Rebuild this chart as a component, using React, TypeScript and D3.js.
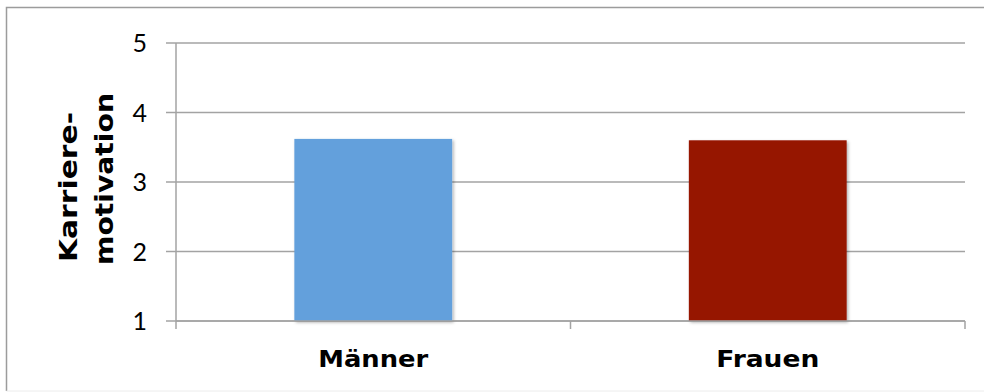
import React from "react";
import * as d3 from "d3";

const categories = ["Männer", "Frauen"];
const values = [3.62, 3.6];
const barColors = ["#64a0dc", "#961200"];
const yTicks = [1, 2, 3, 4, 5];
const yTitleLines = ["Karriere-", "motivation"];

const W = 984;
const H = 392;
const plotLeft = 176;
const plotRight = 965;
const plotTop = 43;
const plotBottom = 321;

export default function App() {
  const x = d3
    .scaleBand<string>()
    .domain(categories)
    .range([plotLeft, plotRight])
    .paddingInner(0.6)
    .paddingOuter(0.3);
  const y = d3.scaleLinear().domain([1, 5]).range([plotBottom, plotTop]);
  const step = x.step();
  const boundaries = [plotLeft, plotLeft + step, plotLeft + 2 * step];
  const grid = "#a3a3a3";
  const labelLengths = [110, 103];
  const titleLengths = [150, 172];
  const titleX = [77, 113];
  const titleY = [187, 179];

  return (
    <svg
      width={W}
      height={H}
      style={{ position: "absolute", left: 0, top: 0, display: "block", background: "#fff" }}
    >
      <defs>
        <filter id="sh" x="-10%" y="-10%" width="125%" height="125%">
          <feDropShadow dx="1.5" dy="1.5" stdDeviation="1.5" floodColor="#000" floodOpacity="0.3" />
        </filter>
      </defs>
      <rect x={0} y={0} width={W} height={H} fill="#fff" />
      {/* outer border */}
      <path d={`M${W + 2},7.5 H6.5 V391`} fill="none" stroke="#9c9c9c" strokeWidth={1.5} />
      <line x1={6.5} x2={W} y1={391} y2={391} stroke="#ececec" strokeWidth={1} />

      {/* gridlines & y ticks */}
      {yTicks.map((t) => (
        <g key={t}>
          <line x1={plotLeft - 10} x2={plotRight} y1={y(t)} y2={y(t)} stroke={grid} strokeWidth={1.5} />
          <text
            x={147}
            y={y(t)}
            dy="0.36em"
            textAnchor="end"
            fontFamily="Lato, 'Open Sans', sans-serif"
            fontWeight={400}
            fontSize={25}
            fill="#000"
          >
            {t}
          </text>
        </g>
      ))}
      {/* y axis line */}
      <line x1={plotLeft} x2={plotLeft} y1={plotTop} y2={plotBottom + 8} stroke={grid} strokeWidth={1.5} />
      {/* x category ticks */}
      {boundaries.slice(1).map((b, i) => (
        <line key={i} x1={b} x2={b} y1={plotBottom} y2={plotBottom + 8} stroke={grid} strokeWidth={1.5} />
      ))}

      {/* bars */}
      {categories.map((c, i) => (
        <rect
          key={c}
          x={x(c)}
          y={y(values[i])}
          width={x.bandwidth()}
          height={y(1) - y(values[i])}
          fill={barColors[i]}
          filter="url(#sh)"
        />
      ))}
      {/* x axis line on top */}
      <line x1={plotLeft} x2={plotRight} y1={plotBottom} y2={plotBottom} stroke={grid} strokeWidth={1.5} />

      {/* category labels */}
      {categories.map((c, i) => (
        <text
          key={c}
          x={(x(c) as number) + x.bandwidth() / 2}
          y={367}
          textAnchor="middle"
          fontFamily="'DejaVu Sans', sans-serif"
          fontWeight={700}
          fontSize={23}
          textLength={labelLengths[i]}
          lengthAdjust="spacingAndGlyphs"
          fill="#000"
        >
          {c}
        </text>
      ))}

      {/* y title */}
      {yTitleLines.map((l, i) => (
        <text
          key={l}
          transform={`translate(${titleX[i]},${titleY[i]}) rotate(-90)`}
          textAnchor="middle"
          fontFamily="'DejaVu Sans', sans-serif"
          fontWeight={700}
          fontSize={24}
          textLength={titleLengths[i]}
          lengthAdjust="spacingAndGlyphs"
          fill="#000"
        >
          {l}
        </text>
      ))}
    </svg>
  );
}
